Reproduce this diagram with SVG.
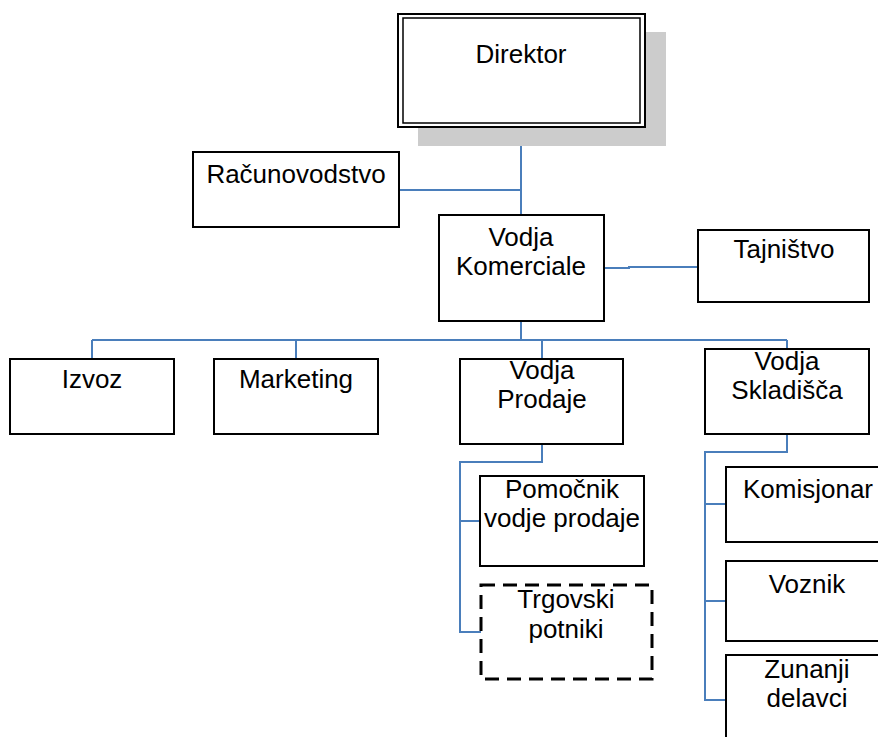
<svg xmlns="http://www.w3.org/2000/svg" width="878" height="737" viewBox="0 0 878 737">
  <style>
    .box { fill: #ffffff; stroke: #000000; stroke-width: 2; }
    .dash { fill: #ffffff; stroke: #000000; stroke-width: 3; stroke-dasharray: 14 8; }
    .shadow { fill: #cccccc; stroke: none; }
    .link { fill: none; stroke: #4a7ebb; stroke-width: 2; }
    text { font-family: "Liberation Sans", Arial, sans-serif; font-size: 26px; fill: #000000; text-anchor: middle; }
  </style>
  <rect width="878" height="737" fill="#ffffff"/>

  <!-- connectors -->
  <g id="connectors">
    <path class="link" d="M521 127 V215"/>
    <path class="link" d="M399 190 H521"/>
    <path class="link" d="M604 268 H629 V267 H698"/>
    <path class="link" d="M521 321 V340"/>
    <path class="link" d="M92 340 H787"/>
    <path class="link" d="M92 340 V359"/>
    <path class="link" d="M296 340 V359"/>
    <path class="link" d="M542 340 V359"/>
    <path class="link" d="M787 340 V349"/>
    <path class="link" d="M542 444 V462 H460 V632 H481"/>
    <path class="link" d="M460 521 H480"/>
    <path class="link" d="M787 434 V452 H705 V700 H726"/>
    <path class="link" d="M705 504 H726"/>
    <path class="link" d="M705 601 H726"/>
  </g>

  <g id="direktor">
    <rect class="shadow" x="418" y="32" width="248" height="114"/>
    <rect class="box" x="398" y="14" width="247" height="113"/>
    <rect fill="none" stroke="#000000" stroke-width="1.5" x="403" y="18" width="237" height="105"/>
    <text x="521" y="63">Direktor</text>
  </g>

  <g id="racunovodstvo">
    <rect class="box" x="193" y="152" width="206" height="75"/>
    <text x="296" y="183">Računovodstvo</text>
  </g>

  <g id="vodja-komerciale">
    <rect class="box" x="439" y="215" width="165" height="106"/>
    <text x="521" y="246">Vodja</text>
    <text x="521" y="275">Komerciale</text>
  </g>

  <g id="tajnistvo">
    <rect class="box" x="698" y="230" width="171" height="72"/>
    <text x="784" y="258">Tajništvo</text>
  </g>

  <g id="izvoz">
    <rect class="box" x="10" y="359" width="164" height="75"/>
    <text x="92" y="388">Izvoz</text>
  </g>

  <g id="marketing">
    <rect class="box" x="214" y="359" width="164" height="75"/>
    <text x="296" y="388">Marketing</text>
  </g>

  <g id="vodja-prodaje">
    <rect class="box" x="460" y="359" width="163" height="85"/>
    <text x="542" y="379">Vodja</text>
    <text x="542" y="408">Prodaje</text>
  </g>

  <g id="vodja-skladisca">
    <rect class="box" x="705" y="349" width="164" height="85"/>
    <text x="787" y="370">Vodja</text>
    <text x="787" y="399">Skladišča</text>
  </g>

  <g id="pomocnik">
    <rect class="box" x="480" y="476" width="164" height="90"/>
    <text x="562" y="498">Pomočnik</text>
    <text x="562" y="527">vodje prodaje</text>
  </g>

  <g id="trgovski-potniki">
    <rect class="dash" x="481" y="585" width="171" height="94"/>
    <text x="566" y="608">Trgovski</text>
    <text x="566" y="638">potniki</text>
  </g>

  <g id="komisjonar">
    <rect class="box" x="726" y="467" width="164" height="75"/>
    <text x="808" y="498">Komisjonar</text>
  </g>

  <g id="voznik">
    <rect class="box" x="726" y="561" width="164" height="80"/>
    <text x="807" y="593">Voznik</text>
  </g>

  <g id="zunanji-delavci">
    <rect class="box" x="726" y="655" width="164" height="95"/>
    <text x="807" y="678">Zunanji</text>
    <text x="807" y="707">delavci</text>
  </g>
</svg>
